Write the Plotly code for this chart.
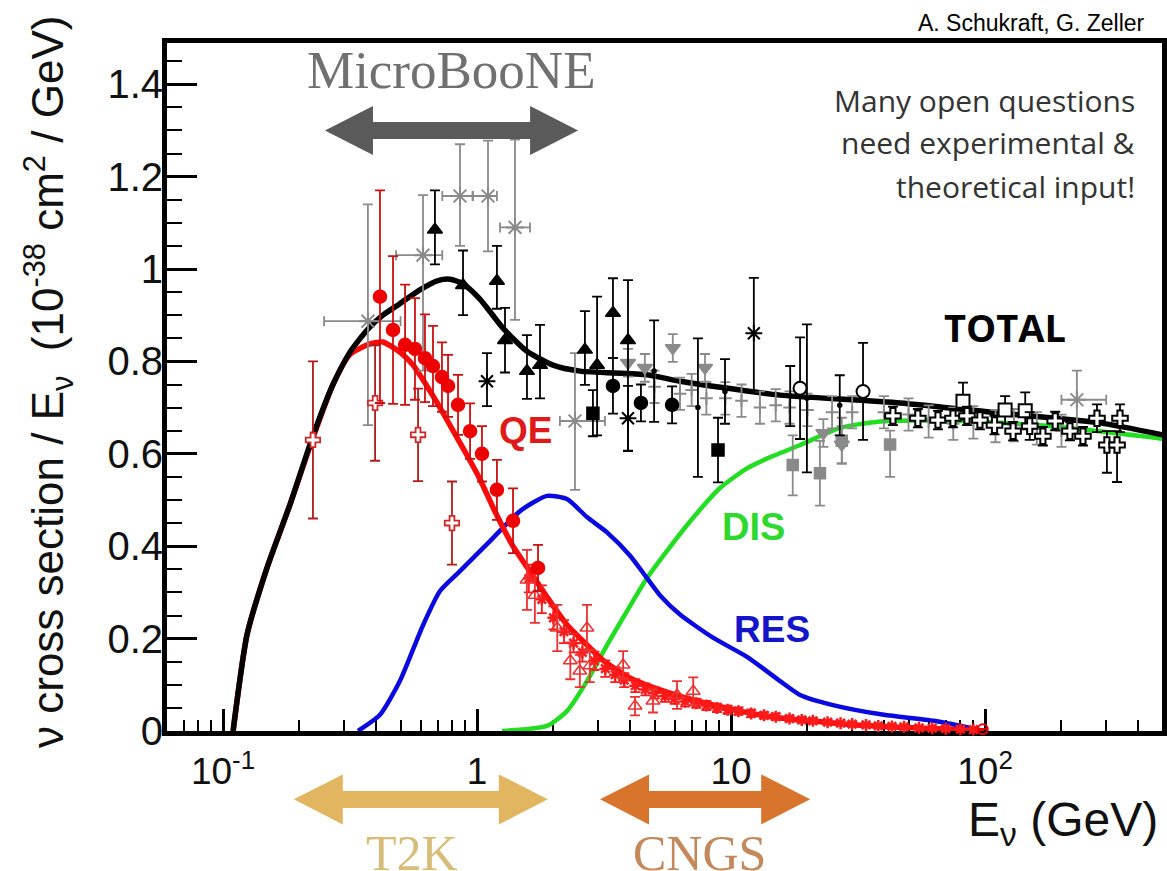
import math
import plotly.graph_objects as go

# ---------------- data (E in GeV, sigma/E in 1e-38 cm^2/GeV) ----------------
total_E = [0.1096, 0.1243, 0.149, 0.1835, 0.2245, 0.271, 0.316, 0.372, 0.426, 0.497, 0.596, 0.702,
           0.783, 0.881, 1.027, 1.266, 1.573, 1.992, 2.544, 4.67, 6.30, 11.56, 15.6, 46.3, 114.5, 283.6, 511]
total_y = [0.0, 0.208, 0.353, 0.49, 0.634, 0.75, 0.82, 0.87, 0.90, 0.925, 0.955, 0.975,
           0.978, 0.968, 0.935, 0.872, 0.822, 0.792, 0.779, 0.771, 0.757, 0.736, 0.727, 0.71, 0.688, 0.667, 0.64]

qe_E = [0.1096, 0.1243, 0.149, 0.1835, 0.2245, 0.271, 0.316, 0.379, 0.426, 0.497, 0.56, 0.653, 0.715,
        0.834, 0.939, 1.027, 1.177, 1.386, 1.617, 1.886, 2.26, 2.786, 3.135, 4.0, 5.40, 7.35, 10.85,
        15.6, 20.5, 29.4, 46.3, 72.8, 99.1]
qe_y = [0.0, 0.208, 0.353, 0.49, 0.63, 0.75, 0.815, 0.838, 0.842, 0.82, 0.792, 0.736, 0.70,
        0.635, 0.585, 0.545, 0.475, 0.40, 0.345, 0.29, 0.23, 0.18, 0.153, 0.115, 0.087, 0.065, 0.043,
        0.028, 0.022, 0.014, 0.008, 0.004, 0.0]

res_E = [0.34, 0.415, 0.497, 0.613, 0.715, 0.857, 1.125, 1.477, 1.886, 2.26, 2.71, 3.25, 4.0, 4.67,
         5.25, 6.3, 8.49, 11.6, 15.6, 18.7, 25.2, 40, 63, 99]
res_y = [0.0, 0.035, 0.108, 0.229, 0.303, 0.346, 0.411, 0.476, 0.509, 0.502, 0.463, 0.43, 0.38, 0.331,
         0.294, 0.252, 0.202, 0.16, 0.108, 0.078, 0.056, 0.035, 0.022, 0.0]

dis_E = [1.254, 1.886, 2.26, 2.71, 3.25, 3.9, 4.67, 5.6, 7.08, 9.05, 11.6, 13.9, 18.7, 26.9, 38.6, 72.8, 180, 511]
dis_y = [0.0, 0.011, 0.043, 0.108, 0.186, 0.26, 0.331, 0.39, 0.461, 0.526, 0.569, 0.59, 0.619, 0.656,
         0.67, 0.672, 0.66, 0.632]

# red filled circles (QE data)
rc_E = [0.415, 0.467, 0.521, 0.570, 0.624, 0.671, 0.728, 0.769, 0.842, 0.939, 1.046, 1.198, 1.386, 1.739]
rc_y = [0.94, 0.868, 0.836, 0.827, 0.807, 0.79, 0.766, 0.747, 0.706, 0.649, 0.60, 0.522, 0.455, 0.353]
rc_err = [0.23, 0.16, 0.13, 0.11, 0.095, 0.087, 0.075, 0.067, 0.065, 0.06, 0.06, 0.065, 0.07, 0.05]

# red open crosses
ro_E = [0.226, 0.397, 0.586, 0.797]
ro_y = [0.63, 0.71, 0.641, 0.45]
ro_err = [0.17, 0.125, 0.10, 0.09]

# red open triangles
rt_E = [1.573, 1.69, 2.07, 2.33, 2.54, 2.78, 2.71, 3.76, 4.19, 4.93, 6.13, 7.1]
rt_y = [0.327, 0.294, 0.223, 0.152, 0.13, 0.141, 0.223, 0.143, 0.054, 0.065, 0.078, 0.086]
rt_err = [0.065, 0.06, 0.05, 0.04, 0.035, 0.035, 0.05, 0.03, 0.02, 0.025, 0.03, 0.03]

# red stars along the QE curve
rs_E = [1.6, 1.8, 2.0, 2.2, 2.4, 2.6, 2.9, 3.2, 3.5, 3.8, 4.2, 4.6, 5.0, 5.5, 6.0, 6.6, 7.3, 8.0, 8.8,
        9.7, 10.7, 12, 13.5, 15, 17, 19, 21, 24, 27, 30, 34, 38, 43, 48, 55, 62, 70, 80, 90]
rs_y = [0.33, 0.285, 0.245, 0.215, 0.19, 0.17, 0.152, 0.135, 0.122, 0.11, 0.098, 0.09, 0.082, 0.075,
        0.07, 0.064, 0.06, 0.055, 0.05, 0.046, 0.043, 0.038, 0.034, 0.031, 0.027, 0.024, 0.022, 0.019,
        0.017, 0.015, 0.013, 0.011, 0.01, 0.009, 0.007, 0.006, 0.005, 0.004, 0.003]
rs_err = [0.03, 0.03, 0.025, 0.025, 0.02, 0.02, 0.02, 0.018, 0.016, 0.015, 0.014, 0.013, 0.012, 0.012,
          0.011, 0.011, 0.01, 0.01, 0.009, 0.009, 0.008, 0.008, 0.007, 0.007, 0.006, 0.006, 0.006, 0.005,
          0.005, 0.005, 0.004, 0.004, 0.004, 0.003, 0.003, 0.003, 0.003, 0.002, 0.002]

# gray asterisks with horizontal bins
gs_E = [0.372, 0.613, 0.857, 1.105, 1.411, 2.43, 230]
gs_y = [0.887, 1.03, 1.158, 1.158, 1.09, 0.671, 0.717]
gs_xm = [0.122, 0.133, 0.127, 0.141, 0.179, 0.31, 30]
gs_xp = [0.128, 0.117, 0.103, 0.093, 0.206, 0.76, 70]
gs_ym = [0.225, 0.25, 0.108, 0.12, 0.20, 0.149, 0.061]
gs_yp = [0.253, 0.13, 0.112, 0.12, 0.19, 0.147, 0.063]

# black filled triangles
bt_E = [0.683, 0.881, 1.198, 1.289, 1.573, 1.77, 2.66, 2.97, 3.43, 3.93]
bt_y = [1.085, 0.965, 0.974, 0.846, 0.779, 0.792, 0.825, 0.792, 0.905, 0.846]
bt_yp = [0.085, 0.075, 0.076, 0.07, 0.078, 0.087, 0.084, 0.148, 0.075, 0.13]
bt_ym = [0.075, 0.065, 0.06, 0.07, 0.06, 0.072, 0.076, 0.152, 0.098, 0.24]

# black points with large bars (small markers)
bb_E = [4.98, 7.41, 9.47, 17.1, 19.9, 26.8]
bb_y = [0.779, 0.70, 0.735, 0.725, 0.72, 0.705]
bb_err = [0.11, 0.15, 0.07, 0.065, 0.16, 0.065]

bc_E = [3.43, 4.42, 5.86]
bc_y = [0.747, 0.71, 0.706]
bc_err = [0.06, 0.04, 0.04]

bs_E = [2.86, 8.89]
bs_y = [0.688, 0.608]
bs_err = [0.05, 0.07]

bx_E = [1.095, 3.93, 12.3]
bx_y = [0.757, 0.677, 0.861]
bx_yp = [0.061, 0.07, 0.12]
bx_ym = [0.054, 0.07, 0.125]

boc_E = [18.7, 33.1]
boc_y = [0.742, 0.735]
boc_err = [0.11, 0.105]

bos_E = [81.9, 120, 144]
bos_y = [0.714, 0.695, 0.693]
bos_err = [0.04, 0.03, 0.04]

bop_E = [43.4, 54.4, 65.3, 74.8, 84.9, 95.5, 109, 129, 150, 169, 189, 216, 243, 276, 302, 331, 340]
bop_y = [0.682, 0.677, 0.673, 0.677, 0.682, 0.673, 0.662, 0.649, 0.66, 0.638, 0.671, 0.649, 0.638,
         0.677, 0.619, 0.619, 0.677]
bop_yp = [0.02, 0.02, 0.02, 0.02, 0.02, 0.02, 0.02, 0.02, 0.03, 0.02, 0.02, 0.02, 0.02, 0.03, 0.03, 0.03, 0.03]
bop_ym = [0.02, 0.02, 0.02, 0.02, 0.02, 0.02, 0.02, 0.02, 0.03, 0.02, 0.02, 0.02, 0.02, 0.03, 0.06, 0.08, 0.03]

gt_E = [3.93, 4.58, 5.9, 7.9, 23.1, 27.3]
gt_y = [0.797, 0.786, 0.829, 0.786, 0.645, 0.62]
gt_err = [0.03, 0.03, 0.03, 0.03, 0.03, 0.04]

gq_E = [17.5, 22.4, 27.3, 42.3]
gq_y = [0.576, 0.558, 0.628, 0.62]
gq_yp = [0.064, 0.07, 0.05, 0.03]
gq_ym = [0.066, 0.07, 0.05, 0.07]

gp_E = [5.0, 6.3, 7.0, 8.0, 9.5, 11, 13, 15, 17, 20, 25, 30, 40, 50, 60, 75, 90, 110, 130, 160, 200]
gp_y = [0.745, 0.73, 0.738, 0.72, 0.72, 0.715, 0.70, 0.705, 0.70, 0.695, 0.69, 0.69, 0.69, 0.685,
        0.67, 0.665, 0.668, 0.66, 0.662, 0.655, 0.65]
gp_err = [0.035] * len(gp_E)

roc_E = [98]
roc_y = [0.004]

# tick labels
x_tickvals = [0.1, 1, 10, 100]
x_ticktext = ["10<sup>-1</sup>", "1", "10", "10<sup>2</sup>"]
y_tickvals = [0, 0.2, 0.4, 0.6, 0.8, 1.0, 1.2, 1.4]
y_ticktext = ["0", "0.2", "0.4", "0.6", "0.8", "1", "1.2", "1.4"]

# experiment energy ranges (GeV)
microboone_range = [0.252, 2.50]
t2k_range = [0.19, 1.90]
cngs_range = [3.05, 20.5]

# ---------------- layout geometry ----------------
W, H = 1167, 871
PL, PR, PT, PB = 167, 1162, 43, 731          # plot-area pixel box (frame lines sit 2.5 px outside)
XR = [(PL - 477) / 254.0, (PR - 477) / 254.0]  # log10(E) range: 1 GeV at px 477, 254 px per decade
YR = [0.0, (PB - PT) / 462.0]

SANS = "Liberation Sans, Arial, Helvetica, sans-serif"
SERIF = "Liberation Serif, Times New Roman, serif"
CAL = "Open Sans, Noto Sans, sans-serif"


def px_x(px):
    return (px - PL) / (PR - PL)


def px_y(py):
    return (PB - py) / (PB - PT)


def e_to_paper(e):
    return (math.log10(e) - XR[0]) / (XR[1] - XR[0])


def v_to_paper(v):
    return (v - YR[0]) / (YR[1] - YR[0])


fig = go.Figure()


def curve(x, y, color, width):
    fig.add_trace(go.Scatter(x=x, y=y, mode="lines",
                             line=dict(color=color, width=width, shape="spline", smoothing=0.6),
                             hoverinfo="skip"))


curve(dis_E, dis_y, "#22dd22", 4.5)
curve(res_E, res_y, "#0a0ae0", 4.5)
curve(qe_E, qe_y, "#ff0a0a", 5.5)
curve(total_E, total_y, "#000000", 5.5)


def pts(x, y, yp, ym, symbol, size, color, fill=None, lw=1.5, ecolor=None, xp=None, xm=None, ewidth=5):
    ecolor = ecolor or color
    mk = dict(symbol=symbol, size=size, color=fill if fill is not None else color,
              line=dict(color=color, width=lw))
    tr = go.Scatter(x=x, y=y, mode="markers", marker=mk, cliponaxis=False,
                    error_y=dict(type="data", symmetric=False, array=yp, arrayminus=ym,
                                 color=ecolor, thickness=1.8, width=ewidth),
                    hoverinfo="skip")
    if xp is not None:
        tr.error_x = dict(type="data", symmetric=False, array=xp, arrayminus=xm,
                          color=ecolor, thickness=1.8, width=ewidth)
    fig.add_trace(tr)


pts(gp_E, gp_y, gp_err, gp_err, "cross-thin-open", 9, "#8a8a8a", lw=2)
pts(gs_E, gs_y, gs_yp, gs_ym, "asterisk-open", 15, "#8a8a8a", lw=2, xp=gs_xp, xm=gs_xm)
pts(gq_E, gq_y, gq_yp, gq_ym, "square", 11, "#8a8a8a")
pts(gt_E, gt_y, gt_err, gt_err, "triangle-down", 13, "#8a8a8a")
pts(bb_E, bb_y, bb_err, bb_err, "circle", 4, "#000000")
pts(bt_E, bt_y, bt_yp, bt_ym, "triangle-up", 13, "#000000")
pts(bc_E, bc_y, bc_err, bc_err, "circle", 13, "#000000")
pts(bs_E, bs_y, bs_err, bs_err, "square", 12, "#000000")
pts(bx_E, bx_y, bx_yp, bx_ym, "asterisk-open", 14, "#000000", lw=2)
pts(boc_E, boc_y, boc_err, boc_err, "circle", 13, "#000000", fill="white", lw=2)
pts(bos_E, bos_y, bos_err, bos_err, "square", 13, "#000000", fill="white", lw=2)
pts(bop_E, bop_y, bop_yp, bop_ym, "cross", 13, "#000000", fill="white", lw=2)
pts(rs_E, rs_y, rs_err, rs_err, "asterisk-open", 10, "#ff1a1a", lw=2.5)
pts(rt_E, rt_y, rt_err, rt_err, "triangle-up", 12, "#ee3030", fill="rgba(255,255,255,0)", lw=1.5)
pts(ro_E, ro_y, ro_err, ro_err, "cross", 12, "#d02828", fill="white", lw=1.8, ecolor="#b01c1c")
pts(rc_E, rc_y, rc_err, rc_err, "circle", 13, "#ee0000", ecolor="#cc1010")
pts(roc_E, roc_y, [0], [0], "circle-open", 10, "#ee0000", lw=2)

# ---------------- arrows ----------------
shapes = []


def dbl_arrow(e0, e1, yval, color, shaft_px=17, head_px=50, headlen_px=49):
    x0, x1 = e_to_paper(e0), e_to_paper(e1)
    yc = v_to_paper(yval)
    pw, ph = PR - PL, PB - PT
    L = headlen_px / pw
    s = shaft_px / 2 / ph
    h = head_px / 2 / ph
    pts_ = [(x0, yc), (x0 + L, yc + h), (x0 + L, yc + s), (x1 - L, yc + s), (x1 - L, yc + h), (x1, yc),
            (x1 - L, yc - h), (x1 - L, yc - s), (x0 + L, yc - s), (x0 + L, yc - h)]
    path = "M " + " L ".join(f"{a:.5f},{b:.5f}" for a, b in pts_) + " Z"
    shapes.append(dict(type="path", xref="paper", yref="paper", path=path,
                       fillcolor=color, line=dict(width=0), layer="above"))


dbl_arrow(microboone_range[0], microboone_range[1], 1.30, "#5a5a5a", shaft_px=17, head_px=49, headlen_px=48)
dbl_arrow(t2k_range[0], t2k_range[1], -0.148, "#e2b660")
dbl_arrow(cngs_range[0], cngs_range[1], -0.148, "#d8742c")

# ---------------- annotations ----------------
anns = []


def ann(text, xpx, ypx, size, color, family, xanchor="center", yanchor="middle", angle=0):
    anns.append(dict(text=text, x=px_x(xpx), y=px_y(ypx), xref="paper", yref="paper",
                     xanchor=xanchor, yanchor=yanchor, showarrow=False, textangle=angle,
                     font=dict(size=size, color=color, family=family)))


ann("A. Schukraft, G. Zeller", 1147, 23, 23, "#000000", SANS, xanchor="right")
ann("Many open questions", 1137, 100, 30, "#333333", CAL, xanchor="right")
ann("need experimental &amp;", 1137, 142, 30, "#333333", CAL, xanchor="right")
ann("theoretical input!", 1137, 186, 30, "#333333", CAL, xanchor="right")
ann("<b>TOTAL</b>", 1005, 327, 38, "#000000", CAL)
ann("<b>QE</b>", 525, 430, 37, "#e01a1a", SANS)
ann("<b>DIS</b>", 753, 527, 38, "#2ed82e", SANS)
ann("<b>RES</b>", 772, 629, 37, "#1414c8", SANS)
ann("MicroBooNE", 451, 70, 53, "#707070", SERIF)
ann("T2K", 412, 853, 50, "#d8bd7a", SERIF)
ann("CNGS", 699, 853, 50, "#c4885a", SERIF)
ann("E<sub>ν</sub> (GeV)", 1160, 791, 48, "#111111", SANS, xanchor="right", yanchor="top")
ann("ν cross section / E<sub>ν</sub>  (10<sup>-38</sup> cm<sup>2</sup> / GeV)", 48, 382, 44, "#111111", SANS,
    angle=-90)

minor_x = [m * 10 ** d for d in range(-2, 3) for m in range(2, 10)]
minor_y = [i * 0.05 for i in range(0, 30) if i % 4 != 0]

fig.update_layout(
    width=W, height=H, autosize=False,
    margin=dict(l=PL, r=W - PR, t=PT, b=H - PB, pad=0),
    paper_bgcolor="white", plot_bgcolor="white",
    showlegend=False,
    shapes=shapes, annotations=anns,
    xaxis=dict(type="log", range=XR, showgrid=False, zeroline=False,
               showline=True, linecolor="black", linewidth=5, mirror=True,
               ticks="inside", ticklen=22, tickwidth=2.5, tickcolor="black",
               tickmode="array", tickvals=x_tickvals, ticktext=x_ticktext,
               tickfont=dict(size=37, family=SANS, color="#111111"),
               ticklabelstandoff=4, layer="below traces", automargin=False,
               minor=dict(tickmode="array", tickvals=minor_x, ticks="inside", ticklen=11,
                          tickwidth=2, tickcolor="black", showgrid=False)),
    yaxis=dict(range=YR, showgrid=False, zeroline=False,
               showline=True, linecolor="black", linewidth=5, mirror=True,
               ticks="inside", ticklen=30, tickwidth=2.5, tickcolor="black",
               tickmode="array", tickvals=y_tickvals, ticktext=y_ticktext,
               tickfont=dict(size=40, family=SANS, color="#111111"),
               ticklabelstandoff=-9, layer="below traces", automargin=False,
               minor=dict(tickmode="array", tickvals=minor_y, ticks="inside", ticklen=15,
                          tickwidth=2, tickcolor="black", showgrid=False)),
)

fig.write_html("out.html", config={"displayModeBar": False},
               post_script="document.body.style.margin='0';")
